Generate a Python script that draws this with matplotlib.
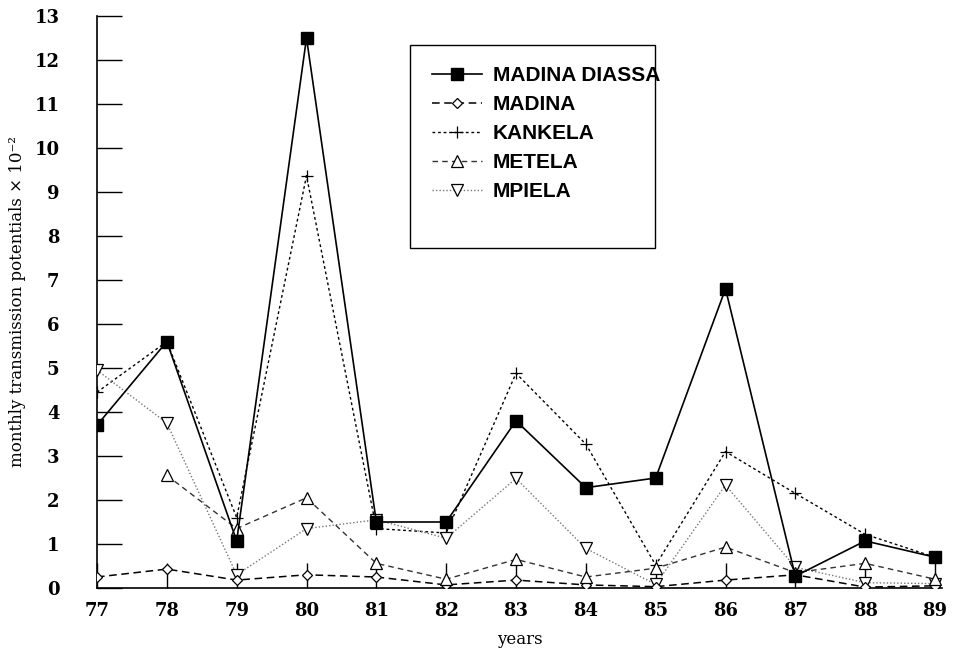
import matplotlib
matplotlib.use("Agg")
import matplotlib.pyplot as plt
from matplotlib.patches import Rectangle
import numpy as np

# transmission potentials (x 10^-2) per year, one list per village
years = [77, 78, 79, 80, 81, 82, 83, 84, 85, 86, 87, 88, 89]
madina_diassa = [3.7, 5.6, 1.07, 12.5, 1.5, 1.5, 3.8, 2.28, 2.5, 6.8, 0.27, 1.07, 0.7]
madina = [0.25, 0.43, 0.18, 0.3, 0.25, 0.07, 0.18, 0.07, 0.03, 0.18, 0.3, 0.02, 0.05]
kankela = [4.45, 5.6, 1.6, 9.37, 1.35, 1.25, 4.88, 3.27, 0.52, 3.1, 2.15, 1.22, 0.7]
metela = [np.nan, 2.56, 1.35, 2.05, 0.56, 0.2, 0.65, 0.25, 0.45, 0.93, 0.35, 0.56, 0.2]
mpiela = [4.95, 3.75, 0.3, 1.35, 1.55, 1.13, 2.49, 0.9, 0.08, 2.34, 0.47, 0.12, 0.1]

serif = "DejaVu Serif"

fig = plt.figure(figsize=(9.57, 6.62), dpi=100)
ax = fig.add_axes([97 / 957, 74 / 662, 845 / 957, 572 / 662])

ax.plot(years, madina_diassa, color="black", lw=1.2, ls="-",
        marker="s", ms=8, mfc="black", mec="black", label="MADINA DIASSA", zorder=5)
ax.plot(years, madina, color="black", lw=1.1, ls=(0, (5, 3)),
        marker="D", ms=5.5, mfc="white", mec="black", mew=0.9, label="MADINA", zorder=4)
ax.plot(years, kankela, color="black", lw=1.0, ls=(0, (2, 2)),
        marker="+", ms=8.5, mec="black", mew=0.9, label="KANKELA", zorder=3)
ax.plot(years, metela, color="#333333", lw=1.0, ls=(0, (4, 3)),
        marker="^", ms=8, mfc="white", mec="black", mew=0.9, label="METELA", zorder=4)
ax.plot(years, mpiela, color="#777777", lw=1.0, ls=(0, (1, 1.5)),
        marker="v", ms=8, mfc="white", mec="black", mew=0.9, label="MPIELA", zorder=3)

ax.set_xlim(77, 89.1)
ax.set_ylim(0, 13)
ax.set_xticks(years)
ax.set_xticklabels([str(y) for y in years])
ax.set_yticks(range(0, 14))

for side in ["top", "right"]:
    ax.spines[side].set_visible(False)
for side in ["left", "bottom"]:
    ax.spines[side].set_linewidth(1.2)

ax.tick_params(axis="y", direction="in", length=18, width=1.0, pad=27)
ax.tick_params(axis="x", direction="in", length=18, width=1.0, pad=10)
for lab in ax.get_xticklabels() + ax.get_yticklabels():
    lab.set_fontfamily(serif)
    lab.set_fontweight("bold")
    lab.set_fontsize(13)

ax.set_xlabel("years", family=serif, fontsize=12, labelpad=8)
ax.set_ylabel("monthly transmission potentials × 10⁻²", family=serif, fontsize=12, labelpad=6)

# legend without frame, box drawn separately
leg = fig.legend(loc="upper left", bbox_to_anchor=(424 / 957, 1 - 58 / 662),
                 frameon=False, handlelength=2.4, handletextpad=0.5,
                 labelspacing=0.48, borderaxespad=0,
                 prop={"family": "Liberation Sans", "weight": "bold", "size": 15})
fig.add_artist(Rectangle((410 / 957, 1 - 248 / 662), 245 / 957, 203 / 662,
                         transform=fig.transFigure, fill=False,
                         edgecolor="black", lw=1.0))

fig.savefig("out.png", dpi=100)
